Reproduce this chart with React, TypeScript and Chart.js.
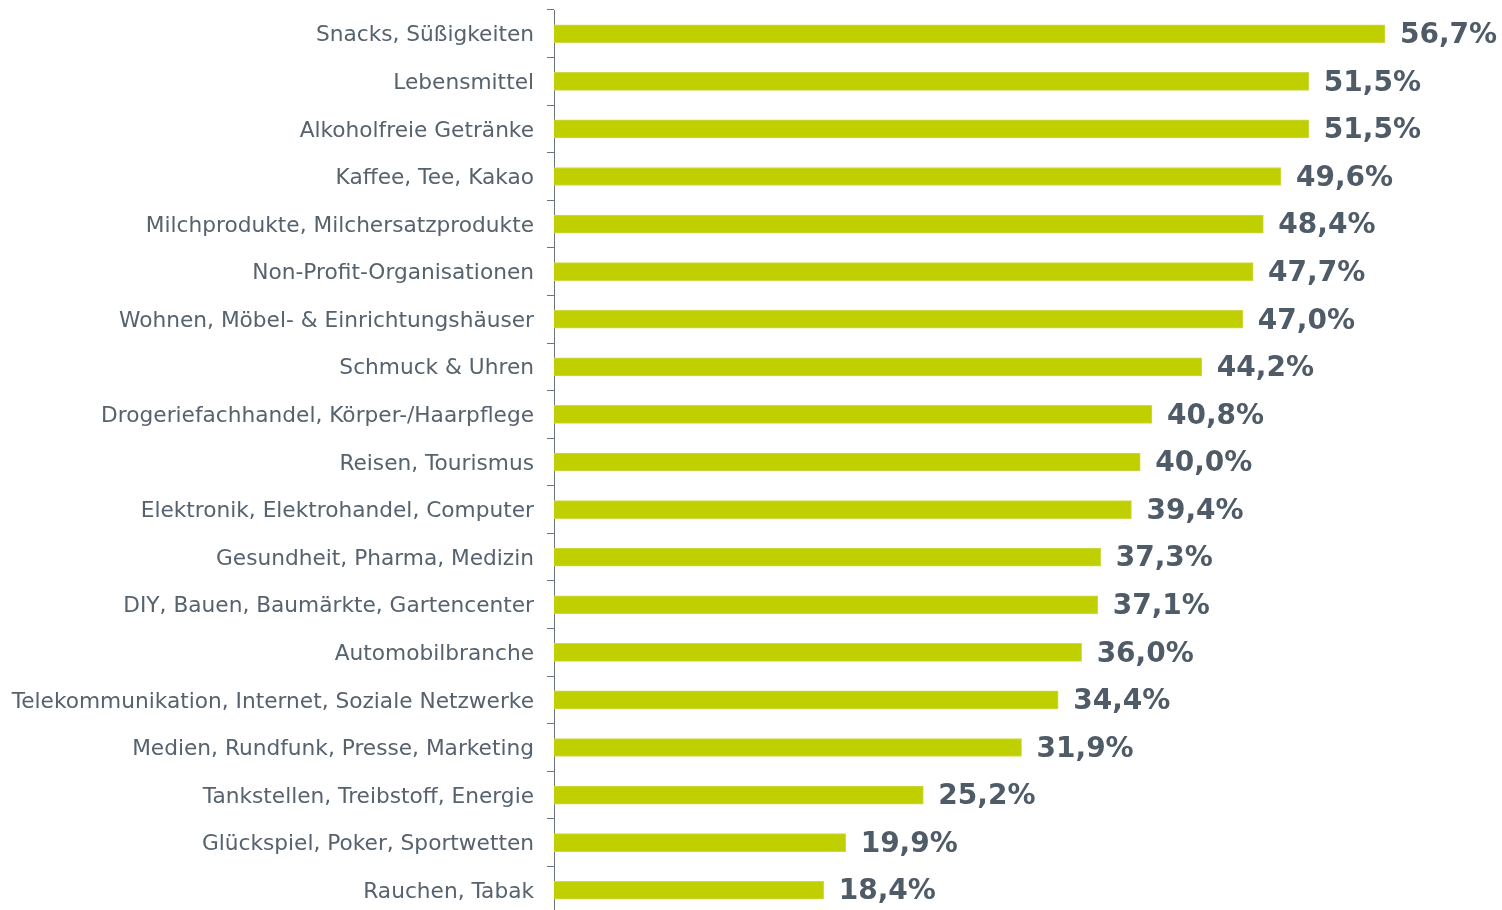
import React, { useEffect, useRef } from "react";
import { Chart, registerables } from "chart.js";

Chart.register(...registerables);

const categories = [
  "Snacks, Süßigkeiten",
  "Lebensmittel",
  "Alkoholfreie Getränke",
  "Kaffee, Tee, Kakao",
  "Milchprodukte, Milchersatzprodukte",
  "Non-Profit-Organisationen",
  "Wohnen, Möbel- & Einrichtungshäuser",
  "Schmuck & Uhren",
  "Drogeriefachhandel, Körper-/Haarpflege",
  "Reisen, Tourismus",
  "Elektronik, Elektrohandel, Computer",
  "Gesundheit, Pharma, Medizin",
  "DIY, Bauen, Baumärkte, Gartencenter",
  "Automobilbranche",
  "Telekommunikation, Internet, Soziale Netzwerke",
  "Medien, Rundfunk, Presse, Marketing",
  "Tankstellen, Treibstoff, Energie",
  "Glückspiel, Poker, Sportwetten",
  "Rauchen, Tabak",
];

const values = [56.7, 51.5, 51.5, 49.6, 48.4, 47.7, 47.0, 44.2, 40.8, 40.0, 39.4, 37.3, 37.1, 36.0, 34.4, 31.9, 25.2, 19.9, 18.4];

const fmt = (v: number) => v.toFixed(1).replace(".", ",") + "%";

const valueLabels = {
  id: "valueLabels",
  afterDatasetsDraw(chart: any) {
    const ctx = chart.ctx;
    const meta = chart.getDatasetMeta(0);
    ctx.save();
    ctx.font = "bold 28px 'DejaVu Sans', Verdana, sans-serif";
    ctx.fillStyle = "#4f5b67";
    ctx.textAlign = "left";
    ctx.textBaseline = "middle";
    meta.data.forEach((bar: any, i: number) => {
      ctx.fillText(fmt(values[i]), bar.x + 15, bar.y + 2);
    });
    ctx.restore();
  },
};

export default function App() {
  const ref = useRef<HTMLCanvasElement>(null);
  useEffect(() => {
    if (!ref.current) return;
    const chart = new Chart(ref.current, {
      type: "bar",
      data: {
        labels: categories,
        datasets: [
          {
            data: values,
            backgroundColor: "#c0cf00",
            borderColor: "#cdd94a",
            borderWidth: 1,
            barThickness: 18,
          },
        ],
      },
      options: {
        indexAxis: "y",
        animation: false,
        responsive: false,
        maintainAspectRatio: false,
        layout: { padding: { top: 10, bottom: 0, right: 10, left: 0 } },
        plugins: { legend: { display: false }, tooltip: { enabled: false } },
        scales: {
          x: { display: false, min: 0, max: 64 },
          y: {
            offset: true,
            afterFit: (s: any) => {
              s.width = 554;
              s.paddingTop = 0;
              s.paddingBottom = 0;
            },
            border: { display: true, color: "#6b7580", width: 1 },
            grid: {
              offset: true,
              drawOnChartArea: false,
              drawTicks: true,
              tickLength: 7,
              color: "#6b7580",
            },
            ticks: {
              padding: 13,
              labelOffset: 2,
              color: "#56626e",
              font: { family: "'DejaVu Sans', Verdana, sans-serif", size: 21.7 },
            },
          },
        },
      },
      plugins: [valueLabels],
    });
    return () => chart.destroy();
  }, []);
  return (
    <div style={{ position: "absolute", left: 0, top: 0, width: 1502, height: 910, overflow: "hidden", background: "#fff" }}>
      <canvas ref={ref} width={1502} height={914} style={{ display: "block" }} />
    </div>
  );
}
